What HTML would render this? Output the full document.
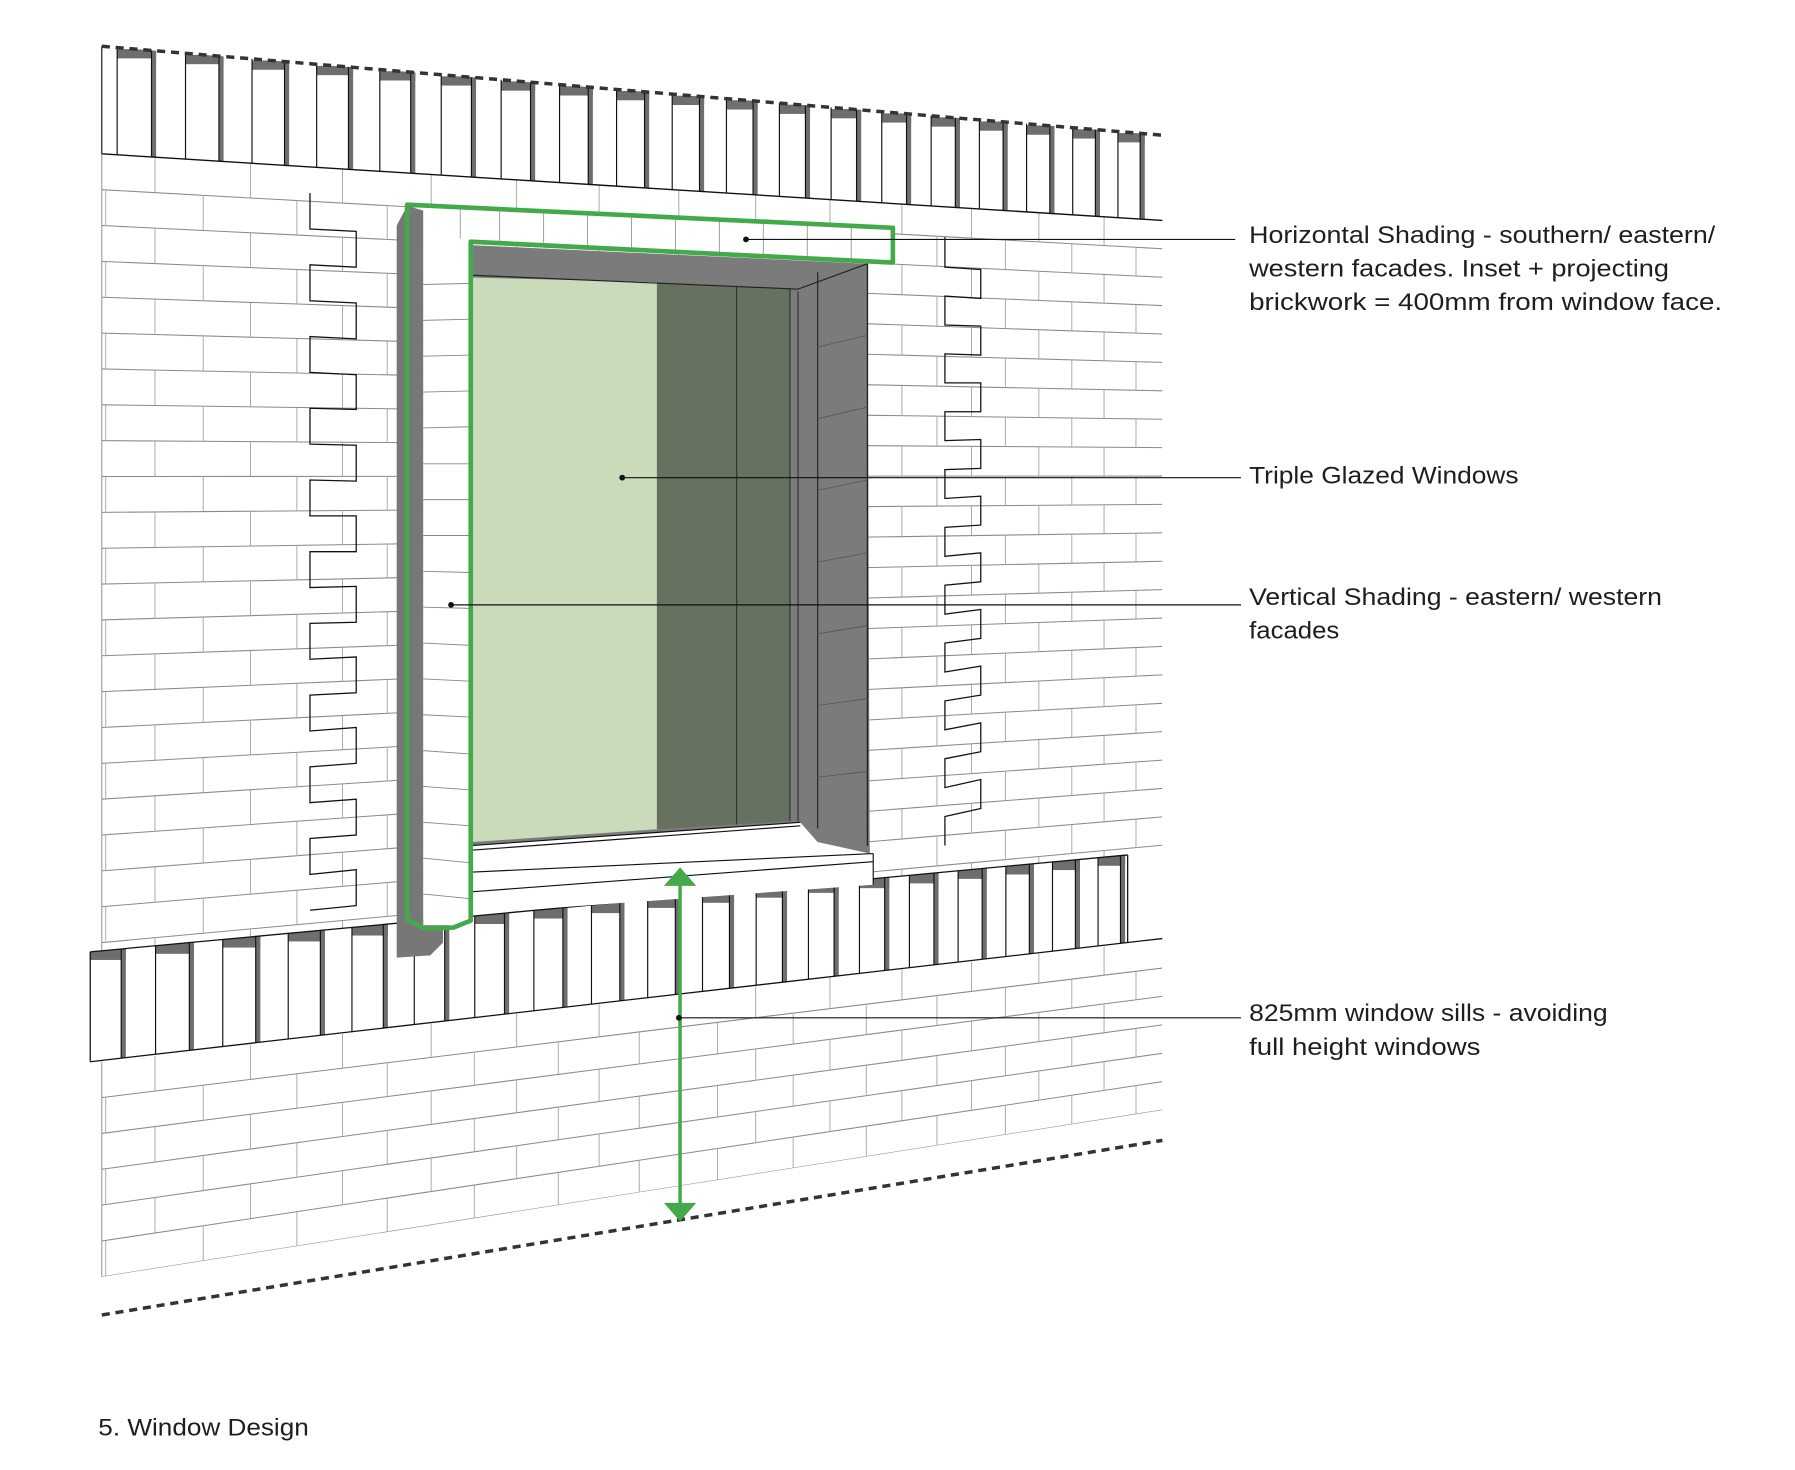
<!DOCTYPE html>
<html><head><meta charset="utf-8"><style>
html,body{margin:0;padding:0;background:#fff;}
svg{display:block;}
text{font-family:"Liberation Sans",sans-serif;font-size:20.5px;fill:#1e1e1e;}
</style></head><body>
<svg width="1795" height="1470" viewBox="0 0 1552 1271" preserveAspectRatio="none">
<defs>
<clipPath id="cu"><polygon points="88,133 1005,190.6 1005,736.4 78,823"/></clipPath>
<clipPath id="cl"><polygon points="88,918 1005,811.5 1005,959.8 88,1104"/></clipPath>
<clipPath id="cs"><polygon points="88,40 1005,116.9 1005,190.6 88,133"/></clipPath>
<clipPath id="cd"><polygon points="78,823 975,739.2 975,815 78,918"/></clipPath>
</defs>
<rect width="1552" height="1271" fill="#fff"/>

<!-- upper wall -->
<g clip-path="url(#cu)">
 <g stroke="#8a8a8a" stroke-width="0.9">
  <line x1="88" y1="164" x2="1005" y2="215.1"/><line x1="88" y1="195" x2="1005" y2="239.7"/>
  <line x1="88" y1="226" x2="1005" y2="264.2"/><line x1="88" y1="257" x2="1005" y2="288.8"/>
  <line x1="88" y1="288" x2="1005" y2="313.3"/><line x1="88" y1="319" x2="1005" y2="337.9"/>
  <line x1="88" y1="350" x2="1005" y2="362.5"/><line x1="88" y1="381" x2="1005" y2="387.0"/>
  <line x1="88" y1="412" x2="1005" y2="411.6"/><line x1="88" y1="443" x2="1005" y2="436.1"/>
  <line x1="88" y1="474" x2="1005" y2="460.7"/><line x1="88" y1="505" x2="1005" y2="485.3"/>
  <line x1="88" y1="536" x2="1005" y2="509.8"/><line x1="88" y1="567" x2="1005" y2="534.4"/>
  <line x1="88" y1="598" x2="1005" y2="558.9"/><line x1="88" y1="629" x2="1005" y2="583.5"/>
  <line x1="88" y1="660" x2="1005" y2="608.1"/><line x1="88" y1="691" x2="1005" y2="632.6"/>
  <line x1="88" y1="722" x2="1005" y2="657.2"/><line x1="88" y1="753" x2="1005" y2="681.7"/>
  <line x1="88" y1="784" x2="1005" y2="706.3"/><line x1="88" y1="815" x2="1005" y2="730.8"/>
 </g>
 <g stroke="#a5a5a5" stroke-width="0.8">
  <line x1="134" y1="135.9" x2="134" y2="830" stroke-dasharray="30.68 30.68"/>
  <line x1="216.6" y1="141.1" x2="216.6" y2="830" stroke-dasharray="30.10 30.10"/>
  <line x1="296.1" y1="146.1" x2="296.1" y2="830" stroke-dasharray="29.54 29.54"/>
  <line x1="372.8" y1="150.9" x2="372.8" y2="830" stroke-dasharray="29.0 29.0"/>
  <line x1="446.7" y1="155.5" x2="446.7" y2="830" stroke-dasharray="28.48 28.48"/>
  <line x1="518" y1="160.0" x2="518" y2="830" stroke-dasharray="27.98 27.98"/>
  <line x1="586.9" y1="164.3" x2="586.9" y2="830" stroke-dasharray="27.49 27.49"/>
  <line x1="653.4" y1="168.5" x2="653.4" y2="830" stroke-dasharray="27.03 27.03"/>
  <line x1="717.6" y1="172.5" x2="717.6" y2="830" stroke-dasharray="26.58 26.58"/>
  <line x1="779.8" y1="176.4" x2="779.8" y2="830" stroke-dasharray="26.14 26.14"/>
  <line x1="840" y1="180.2" x2="840" y2="830" stroke-dasharray="25.72 25.72"/>
  <line x1="898.2" y1="183.9" x2="898.2" y2="830" stroke-dasharray="25.31 25.31"/>
  <line x1="954.6" y1="187.4" x2="954.6" y2="830" stroke-dasharray="24.91 24.91"/>
  <line x1="91.4" y1="164.2" x2="91.4" y2="830" stroke-dasharray="30.98 30.98"/>
  <line x1="175.7" y1="168.9" x2="175.7" y2="830" stroke-dasharray="30.38 30.38"/>
  <line x1="256.7" y1="173.4" x2="256.7" y2="830" stroke-dasharray="29.82 29.82"/>
  <line x1="334.8" y1="177.8" x2="334.8" y2="830" stroke-dasharray="29.27 29.27"/>
  <line x1="410.1" y1="181.9" x2="410.1" y2="830" stroke-dasharray="28.74 28.74"/>
  <line x1="482.7" y1="186.0" x2="482.7" y2="830" stroke-dasharray="28.23 28.23"/>
  <line x1="552.7" y1="189.9" x2="552.7" y2="830" stroke-dasharray="27.74 27.74"/>
  <line x1="620.4" y1="193.7" x2="620.4" y2="830" stroke-dasharray="27.26 27.26"/>
  <line x1="685.8" y1="197.3" x2="685.8" y2="830" stroke-dasharray="26.80 26.80"/>
  <line x1="749" y1="200.9" x2="749" y2="830" stroke-dasharray="26.36 26.36"/>
  <line x1="810.1" y1="204.2" x2="810.1" y2="830" stroke-dasharray="25.93 25.93"/>
  <line x1="869.3" y1="207.6" x2="869.3" y2="830" stroke-dasharray="25.51 25.51"/>
  <line x1="926.7" y1="210.8" x2="926.7" y2="830" stroke-dasharray="25.11 25.11"/>
  <line x1="982.2" y1="213.8" x2="982.2" y2="830" stroke-dasharray="24.72 24.72"/>
 </g>
</g>
<line x1="88" y1="133" x2="88" y2="822" stroke="#8a8a8a" stroke-width="0.8"/>

<!-- toothing -->
<path d="M268 167 L268 198 L308 200 L308 231 L268 229 L268 260 L308 262 L308 293 L268 291 L268 322 L308 324 L308 354 L268 353 L268 384 L308 385 L308 416 L268 415 L268 446 L308 446 L308 477 L268 477 L268 508 L308 507 L308 538 L268 539 L268 570 L308 568 L308 599 L268 601 L268 632 L308 629 L308 660 L268 663 L268 694 L308 691 L308 722 L268 725 L268 756 L308 752 L308 783 L268 787" fill="none" stroke="#111" stroke-width="1.1"/>
<path d="M817 205 L817 231 L848 233 L848 258 L817 256 L817 281 L848 282 L848 307 L817 306 L817 331 L848 331 L848 356 L817 356 L817 381 L848 380 L848 405 L817 406 L817 431 L848 429 L848 454 L817 456 L817 481 L848 478 L848 503 L817 506 L817 531 L848 527 L848 552 L817 556 L817 581 L848 576 L848 601 L817 606 L817 631 L848 625 L848 650 L817 656 L817 681 L848 674 L848 699 L817 706 L817 731" fill="none" stroke="#111" stroke-width="1.1"/>

<!-- upper soldier course -->
<polygon points="88,40 1005,116.9 1005,190.6 88,133" fill="#fff"/>
<g clip-path="url(#cs)">
 <g fill="#6e6e6e">
  <rect x="101.3" y="42.5" width="33.7" height="8"/><rect x="160.4" y="47.5" width="32.9" height="8"/>
  <rect x="217.9" y="52.3" width="32.1" height="8"/><rect x="273.8" y="57" width="31.5" height="8"/>
  <rect x="328.4" y="61.6" width="30.7" height="8"/><rect x="381.5" y="66" width="30.1" height="8"/>
  <rect x="433.3" y="70.4" width="29.4" height="8"/><rect x="483.8" y="74.6" width="28.8" height="8"/>
  <rect x="533.1" y="78.7" width="28.2" height="8"/><rect x="581.2" y="82.8" width="27.6" height="8"/>
  <rect x="628.1" y="86.7" width="27" height="8"/><rect x="673.9" y="90.5" width="26.5" height="8"/>
  <rect x="718.6" y="94.3" width="26" height="8"/><rect x="762.4" y="98" width="25.4" height="8"/>
  <rect x="805.1" y="101.5" width="24.9" height="8"/><rect x="846.8" y="105" width="24.5" height="8"/>
  <rect x="887.6" y="108.5" width="24.1" height="8"/><rect x="927.5" y="111.8" width="23.6" height="8"/>
  <rect x="966.6" y="115.1" width="23.2" height="8"/>
  <rect x="131" y="30" width="4" height="170"/><rect x="189.3" y="30" width="4" height="170"/>
  <rect x="246" y="30" width="4" height="170"/><rect x="301.3" y="30" width="4" height="170"/>
  <rect x="355.1" y="30" width="4" height="170"/><rect x="407.6" y="30" width="4" height="170"/>
  <rect x="458.7" y="30" width="4" height="170"/><rect x="508.6" y="30" width="4" height="170"/>
  <rect x="557.3" y="30" width="4" height="170"/><rect x="604.8" y="30" width="4" height="170"/>
  <rect x="651.1" y="30" width="4" height="170"/><rect x="696.4" y="30" width="4" height="170"/>
  <rect x="740.6" y="30" width="4" height="170"/><rect x="783.8" y="30" width="4" height="170"/>
  <rect x="826" y="30" width="4" height="170"/><rect x="867.3" y="30" width="4" height="170"/>
  <rect x="907.7" y="30" width="4" height="170"/><rect x="947.1" y="30" width="4" height="170"/>
  <rect x="985.8" y="30" width="4" height="170"/>
 </g>
 <g stroke="#111" stroke-width="1">
  <line x1="101.3" y1="30" x2="101.3" y2="200"/><line x1="131" y1="30" x2="131" y2="200"/>
  <line x1="160.4" y1="30" x2="160.4" y2="200"/><line x1="189.3" y1="30" x2="189.3" y2="200"/>
  <line x1="217.9" y1="30" x2="217.9" y2="200"/><line x1="246" y1="30" x2="246" y2="200"/>
  <line x1="273.8" y1="30" x2="273.8" y2="200"/><line x1="301.3" y1="30" x2="301.3" y2="200"/>
  <line x1="328.4" y1="30" x2="328.4" y2="200"/><line x1="355.1" y1="30" x2="355.1" y2="200"/>
  <line x1="381.5" y1="30" x2="381.5" y2="200"/><line x1="407.6" y1="30" x2="407.6" y2="200"/>
  <line x1="433.3" y1="30" x2="433.3" y2="200"/><line x1="458.7" y1="30" x2="458.7" y2="200"/>
  <line x1="483.8" y1="30" x2="483.8" y2="200"/><line x1="508.6" y1="30" x2="508.6" y2="200"/>
  <line x1="533.1" y1="30" x2="533.1" y2="200"/><line x1="557.3" y1="30" x2="557.3" y2="200"/>
  <line x1="581.2" y1="30" x2="581.2" y2="200"/><line x1="604.8" y1="30" x2="604.8" y2="200"/>
  <line x1="628.1" y1="30" x2="628.1" y2="200"/><line x1="651.1" y1="30" x2="651.1" y2="200"/>
  <line x1="673.9" y1="30" x2="673.9" y2="200"/><line x1="696.4" y1="30" x2="696.4" y2="200"/>
  <line x1="718.6" y1="30" x2="718.6" y2="200"/><line x1="740.6" y1="30" x2="740.6" y2="200"/>
  <line x1="762.4" y1="30" x2="762.4" y2="200"/><line x1="783.8" y1="30" x2="783.8" y2="200"/>
  <line x1="805.1" y1="30" x2="805.1" y2="200"/><line x1="826" y1="30" x2="826" y2="200"/>
  <line x1="846.8" y1="30" x2="846.8" y2="200"/><line x1="867.3" y1="30" x2="867.3" y2="200"/>
  <line x1="887.6" y1="30" x2="887.6" y2="200"/><line x1="907.7" y1="30" x2="907.7" y2="200"/>
  <line x1="927.5" y1="30" x2="927.5" y2="200"/><line x1="947.1" y1="30" x2="947.1" y2="200"/>
  <line x1="966.6" y1="30" x2="966.6" y2="200"/><line x1="985.8" y1="30" x2="985.8" y2="200"/>
 </g>
</g>
<line x1="88" y1="40" x2="88" y2="133" stroke="#111" stroke-width="1"/>
<line x1="88" y1="133" x2="1005" y2="190.6" stroke="#111" stroke-width="1.2"/>

<!-- lower soldier course -->
<polygon points="78,823 975,739.2 975,815 78,918" fill="#fff"/>
<g clip-path="url(#cd)">
 <g fill="#6e6e6e">
  <rect x="78" y="820" width="30.8" height="10"/><rect x="134.5" y="814.7" width="33.2" height="10"/>
  <rect x="192.6" y="809.3" width="32.5" height="10"/><rect x="249.2" y="804" width="31.8" height="10"/>
  <rect x="304.3" y="798.9" width="31.1" height="10"/><rect x="358.2" y="793.8" width="30.3" height="10"/>
  <rect x="410.5" y="788.9" width="29.7" height="10"/><rect x="461.6" y="784.2" width="29.1" height="10"/>
  <rect x="511.4" y="779.5" width="28.5" height="10"/><rect x="560" y="775" width="27.9" height="10"/>
  <rect x="607.4" y="770.6" width="27.3" height="10"/><rect x="653.8" y="766.2" width="26.7" height="10"/>
  <rect x="699" y="762" width="26.2" height="10"/><rect x="743.1" y="757.9" width="25.8" height="10"/>
  <rect x="786.3" y="753.8" width="25.2" height="10"/><rect x="828.4" y="749.9" width="24.8" height="10"/>
  <rect x="869.7" y="746.1" width="24.3" height="10"/><rect x="910" y="742.3" width="23.8" height="10"/>
  <rect x="949.4" y="738.6" width="23.4" height="10"/>
  <rect x="104.8" y="730" width="4" height="200"/><rect x="163.7" y="730" width="4" height="200"/>
  <rect x="221.1" y="730" width="4" height="200"/><rect x="277" y="730" width="4" height="200"/>
  <rect x="331.4" y="730" width="4" height="200"/><rect x="384.5" y="730" width="4" height="200"/>
  <rect x="436.2" y="730" width="4" height="200"/><rect x="486.7" y="730" width="4" height="200"/>
  <rect x="535.9" y="730" width="4" height="200"/><rect x="583.9" y="730" width="4" height="200"/>
  <rect x="630.7" y="730" width="4" height="200"/><rect x="676.5" y="730" width="4" height="200"/>
  <rect x="721.2" y="730" width="4" height="200"/><rect x="764.9" y="730" width="4" height="200"/>
  <rect x="807.5" y="730" width="4" height="200"/><rect x="849.2" y="730" width="4" height="200"/>
  <rect x="890" y="730" width="4" height="200"/><rect x="929.8" y="730" width="4" height="200"/>
  <rect x="968.8" y="730" width="4" height="200"/>
 </g>
 <g stroke="#111" stroke-width="1">
  <line x1="104.8" y1="730" x2="104.8" y2="930"/><line x1="134.5" y1="730" x2="134.5" y2="930"/>
  <line x1="163.7" y1="730" x2="163.7" y2="930"/><line x1="192.6" y1="730" x2="192.6" y2="930"/>
  <line x1="221.1" y1="730" x2="221.1" y2="930"/><line x1="249.2" y1="730" x2="249.2" y2="930"/>
  <line x1="277" y1="730" x2="277" y2="930"/><line x1="304.3" y1="730" x2="304.3" y2="930"/>
  <line x1="331.4" y1="730" x2="331.4" y2="930"/><line x1="358.2" y1="730" x2="358.2" y2="930"/>
  <line x1="384.5" y1="730" x2="384.5" y2="930"/><line x1="410.5" y1="730" x2="410.5" y2="930"/>
  <line x1="436.2" y1="730" x2="436.2" y2="930"/><line x1="461.6" y1="730" x2="461.6" y2="930"/>
  <line x1="486.7" y1="730" x2="486.7" y2="930"/><line x1="511.4" y1="730" x2="511.4" y2="930"/>
  <line x1="535.9" y1="730" x2="535.9" y2="930"/><line x1="560" y1="730" x2="560" y2="930"/>
  <line x1="583.9" y1="730" x2="583.9" y2="930"/><line x1="607.4" y1="730" x2="607.4" y2="930"/>
  <line x1="630.7" y1="730" x2="630.7" y2="930"/><line x1="653.8" y1="730" x2="653.8" y2="930"/>
  <line x1="676.5" y1="730" x2="676.5" y2="930"/><line x1="699" y1="730" x2="699" y2="930"/>
  <line x1="721.2" y1="730" x2="721.2" y2="930"/><line x1="743.1" y1="730" x2="743.1" y2="930"/>
  <line x1="764.9" y1="730" x2="764.9" y2="930"/><line x1="786.3" y1="730" x2="786.3" y2="930"/>
  <line x1="807.5" y1="730" x2="807.5" y2="930"/><line x1="828.4" y1="730" x2="828.4" y2="930"/>
  <line x1="849.2" y1="730" x2="849.2" y2="930"/><line x1="869.7" y1="730" x2="869.7" y2="930"/>
  <line x1="890" y1="730" x2="890" y2="930"/><line x1="910" y1="730" x2="910" y2="930"/>
  <line x1="929.8" y1="730" x2="929.8" y2="930"/><line x1="949.4" y1="730" x2="949.4" y2="930"/>
  <line x1="968.8" y1="730" x2="968.8" y2="930"/>
 </g>
</g>
<g stroke="#111" stroke-width="1.1">
 <line x1="78" y1="823" x2="78" y2="918"/>
 <line x1="975" y1="739.2" x2="975" y2="815"/>
 <line x1="78" y1="823" x2="975" y2="739.2"/>
 <line x1="78" y1="918" x2="1005" y2="811.5"/>
</g>

<!-- lower wall -->
<g clip-path="url(#cl)">
 <g stroke="#8a8a8a" stroke-width="0.9">
  <line x1="88" y1="949" x2="1005" y2="837.0"/><line x1="88" y1="980" x2="1005" y2="861.5"/>
  <line x1="88" y1="1011" x2="1005" y2="886.1"/><line x1="88" y1="1042" x2="1005" y2="910.7"/>
  <line x1="88" y1="1073" x2="1005" y2="935.2"/><line x1="88" y1="1104" x2="1005" y2="959.8"/>
 </g>
 <g stroke="#a5a5a5" stroke-width="0.8">
  <line x1="134" y1="912.7" x2="134" y2="1110" stroke-dasharray="30.68 30.68"/>
  <line x1="216.6" y1="903.2" x2="216.6" y2="1110" stroke-dasharray="30.10 30.10"/>
  <line x1="296.1" y1="894.0" x2="296.1" y2="1110" stroke-dasharray="29.54 29.54"/>
  <line x1="372.8" y1="885.2" x2="372.8" y2="1110" stroke-dasharray="29.0 29.0"/>
  <line x1="446.7" y1="876.7" x2="446.7" y2="1110" stroke-dasharray="28.48 28.48"/>
  <line x1="518" y1="868.5" x2="518" y2="1110" stroke-dasharray="27.98 27.98"/>
  <line x1="586.9" y1="860.5" x2="586.9" y2="1110" stroke-dasharray="27.49 27.49"/>
  <line x1="653.4" y1="852.9" x2="653.4" y2="1110" stroke-dasharray="27.03 27.03"/>
  <line x1="717.6" y1="845.5" x2="717.6" y2="1110" stroke-dasharray="26.58 26.58"/>
  <line x1="779.8" y1="838.3" x2="779.8" y2="1110" stroke-dasharray="26.14 26.14"/>
  <line x1="840" y1="831.4" x2="840" y2="1110" stroke-dasharray="25.72 25.72"/>
  <line x1="898.2" y1="824.7" x2="898.2" y2="1110" stroke-dasharray="25.31 25.31"/>
  <line x1="954.6" y1="818.2" x2="954.6" y2="1110" stroke-dasharray="24.91 24.91"/>
  <line x1="91.4" y1="948.6" x2="91.4" y2="1110" stroke-dasharray="30.98 30.98"/>
  <line x1="175.7" y1="938.3" x2="175.7" y2="1110" stroke-dasharray="30.38 30.38"/>
  <line x1="256.7" y1="928.4" x2="256.7" y2="1110" stroke-dasharray="29.82 29.82"/>
  <line x1="334.8" y1="918.9" x2="334.8" y2="1110" stroke-dasharray="29.27 29.27"/>
  <line x1="410.1" y1="909.6" x2="410.1" y2="1110" stroke-dasharray="28.74 28.74"/>
  <line x1="482.7" y1="900.7" x2="482.7" y2="1110" stroke-dasharray="28.23 28.23"/>
  <line x1="552.7" y1="892.2" x2="552.7" y2="1110" stroke-dasharray="27.74 27.74"/>
  <line x1="620.4" y1="884.0" x2="620.4" y2="1110" stroke-dasharray="27.26 27.26"/>
  <line x1="685.8" y1="876.0" x2="685.8" y2="1110" stroke-dasharray="26.80 26.80"/>
  <line x1="749" y1="868.3" x2="749" y2="1110" stroke-dasharray="26.36 26.36"/>
  <line x1="810.1" y1="860.7" x2="810.1" y2="1110" stroke-dasharray="25.93 25.93"/>
  <line x1="869.3" y1="853.5" x2="869.3" y2="1110" stroke-dasharray="25.51 25.51"/>
  <line x1="926.7" y1="846.5" x2="926.7" y2="1110" stroke-dasharray="25.11 25.11"/>
  <line x1="982.2" y1="839.7" x2="982.2" y2="1110" stroke-dasharray="24.72 24.72"/>
 </g>
</g>
<line x1="88" y1="918" x2="88" y2="1104" stroke="#8a8a8a" stroke-width="0.8"/>

<!-- dashed -->
<line x1="88" y1="40" x2="1005" y2="116.9" stroke="#333" stroke-width="3" stroke-dasharray="7 5"/>
<line x1="88" y1="1137" x2="1005" y2="986" stroke="#333" stroke-width="3" stroke-dasharray="7 5"/>

<g id="win">
  <polygon points="409,212 750,228 752,738 700,728 409,731" fill="#7b7b7b"/>
  <polygon points="409,240 568,244 568,717 409,728" fill="#c9dbbb"/>
  <polygon points="568,244 683,249 683,710 568,717" fill="#67715f"/>
  <line x1="637" y1="247" x2="637" y2="713" stroke="#222" stroke-width="0.8"/>
  <line x1="683" y1="249" x2="683" y2="710" stroke="#222" stroke-width="0.8"/>
  <line x1="690" y1="252" x2="690" y2="710" stroke="#222" stroke-width="0.8"/>
  <line x1="707" y1="235" x2="707" y2="728" stroke="#222" stroke-width="1"/>
  <line x1="409" y1="238" x2="690" y2="250" stroke="#222" stroke-width="1"/>
  <line x1="690" y1="250" x2="750" y2="228" stroke="#222" stroke-width="1"/>
  <line x1="750" y1="228" x2="750" y2="738" stroke="#222" stroke-width="1.2"/>
  <g stroke="#555" stroke-width="0.7">
    <line x1="707" y1="300" x2="750" y2="290"/><line x1="707" y1="362" x2="750" y2="352"/>
    <line x1="707" y1="424" x2="750" y2="415"/><line x1="707" y1="486" x2="750" y2="478"/>
    <line x1="707" y1="548" x2="750" y2="541"/><line x1="707" y1="610" x2="750" y2="604"/>
    <line x1="707" y1="672" x2="750" y2="667"/>
  </g>
  <polygon points="409,731 692,711 707,728 755,738 755,765 409,790" fill="#fff"/>
  <polygon points="692,711 707,728 752,738 752,732" fill="#7b7b7b"/>
  <g stroke="#111" stroke-width="1">
    <line x1="409" y1="731" x2="692" y2="711"/>
    <line x1="409" y1="735" x2="692" y2="714"/>
    <line x1="409" y1="754" x2="755" y2="738"/>
    <line x1="409" y1="771" x2="755" y2="745"/>
    <line x1="755" y1="738" x2="755" y2="765"/>
  </g>
  <polygon points="343,195 352,178 366,182 366,800 383,800 383,815 372,826 343,828" fill="#777"/>
  <polygon points="366,182 407,210 407,800 366,800" fill="#fff"/>
  <g stroke="#888" stroke-width="0.8">
    <line x1="366" y1="246" x2="407" y2="245"/><line x1="366" y1="277" x2="407" y2="276"/>
    <line x1="366" y1="308" x2="407" y2="307"/><line x1="366" y1="339" x2="407" y2="338"/>
    <line x1="366" y1="370" x2="407" y2="369"/><line x1="366" y1="401" x2="407" y2="401"/>
    <line x1="366" y1="432" x2="407" y2="432"/><line x1="366" y1="463" x2="407" y2="463"/>
    <line x1="366" y1="494" x2="407" y2="495"/><line x1="366" y1="525" x2="407" y2="526"/>
    <line x1="366" y1="556" x2="407" y2="558"/><line x1="366" y1="587" x2="407" y2="589"/>
    <line x1="366" y1="618" x2="407" y2="620"/><line x1="366" y1="649" x2="407" y2="652"/>
    <line x1="366" y1="680" x2="407" y2="683"/><line x1="366" y1="711" x2="407" y2="714"/>
    <line x1="366" y1="742" x2="407" y2="746"/><line x1="366" y1="773" x2="407" y2="777"/>
  </g>
  <polygon points="352,177 772,197 772,227 407,209 366,182" fill="#fff"/>
  <g stroke="#999" stroke-width="0.8">
    <line x1="398" y1="180" x2="398" y2="206"/><line x1="432" y1="182" x2="432" y2="211"/>
    <line x1="470" y1="184" x2="470" y2="213"/><line x1="508" y1="186" x2="508" y2="215"/>
    <line x1="546" y1="187" x2="546" y2="217"/><line x1="584" y1="189" x2="584" y2="219"/>
    <line x1="622" y1="190" x2="622" y2="220"/><line x1="660" y1="192" x2="660" y2="222"/>
    <line x1="698" y1="194" x2="698" y2="224"/><line x1="736" y1="195" x2="736" y2="226"/>
  </g>
  <polygon points="352,177 772,197 772,227 407,209 407,796 392,802 367,803 352,795" fill="none" stroke="#44a94a" stroke-width="4" stroke-linejoin="round"/>
  <line x1="588" y1="762" x2="588" y2="1043" stroke="#44a94a" stroke-width="3"/>
  <polygon points="574,766 588,750 602,766" fill="#44a94a"/>
  <polygon points="574,1040 602,1040 588,1056" fill="#44a94a"/>
  <g stroke="#111" stroke-width="1">
    <line x1="645" y1="207" x2="1068" y2="207"/>
    <line x1="538" y1="413" x2="1073" y2="413"/>
    <line x1="390" y1="523" x2="1073" y2="523"/>
    <line x1="587" y1="880" x2="1073" y2="880"/>
  </g>
  <g fill="#111">
    <circle cx="645" cy="207" r="2.5"/><circle cx="538" cy="413" r="2.5"/>
    <circle cx="390" cy="523" r="2.5"/><circle cx="587" cy="880" r="2.5"/>
  </g>
  <text x="1080" y="210" textLength="403" lengthAdjust="spacingAndGlyphs">Horizontal Shading - southern/ eastern/</text>
  <text x="1080" y="239" textLength="363" lengthAdjust="spacingAndGlyphs">western facades. Inset + projecting</text>
  <text x="1080" y="268" textLength="409" lengthAdjust="spacingAndGlyphs">brickwork = 400mm from window face.</text>
  <text x="1080" y="418" textLength="233" lengthAdjust="spacingAndGlyphs">Triple Glazed Windows</text>
  <text x="1080" y="523" textLength="357" lengthAdjust="spacingAndGlyphs">Vertical Shading - eastern/ western</text>
  <text x="1080" y="552" textLength="78" lengthAdjust="spacingAndGlyphs">facades</text>
  <text x="1080" y="883" textLength="310" lengthAdjust="spacingAndGlyphs">825mm window sills - avoiding</text>
  <text x="1080" y="912" textLength="200" lengthAdjust="spacingAndGlyphs">full height windows</text>
  <text x="85" y="1241" textLength="182" lengthAdjust="spacingAndGlyphs">5. Window Design</text>
</g>
</svg>
</body></html>
